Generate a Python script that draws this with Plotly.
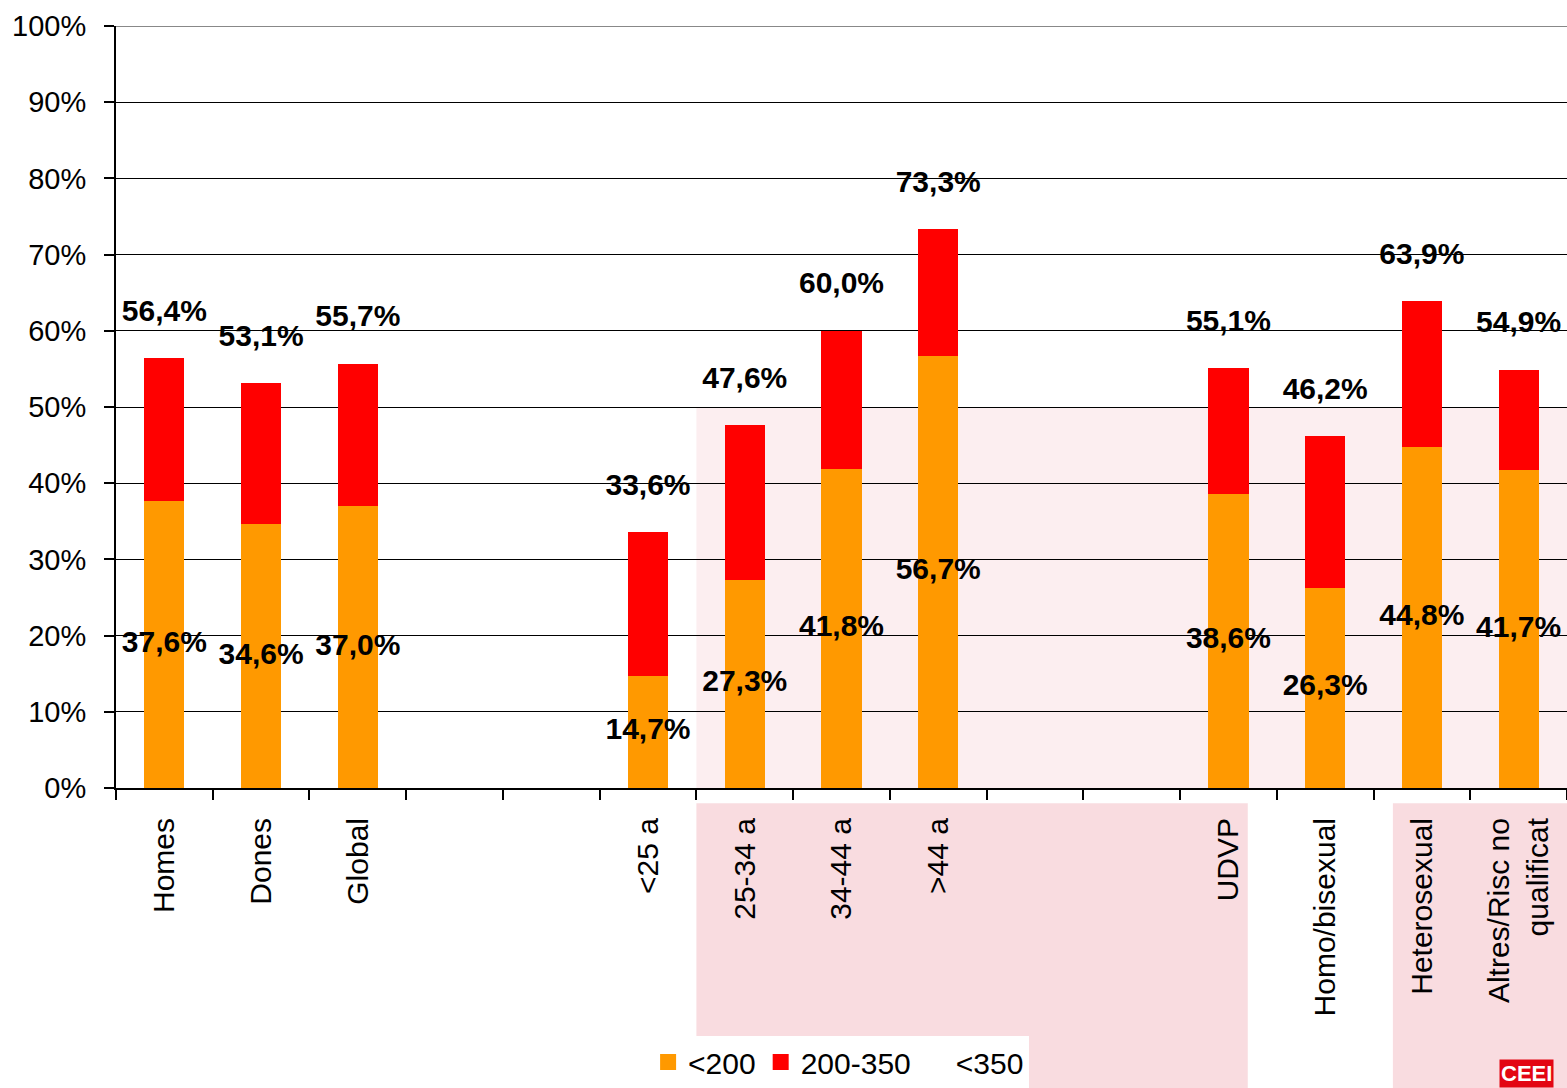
import plotly.graph_objects as go

categories = ["Homes", "Dones", "Global", " ", "  ", "<25 a", "25-34 a", "34-44 a", ">44 a",
              "   ", "    ", "UDVP", "Homo/bisexual", "Heterosexual", "Altres/Risc no<br>qualificat"]
under200 = [37.6, 34.6, 37.0, None, None, 14.7, 27.3, 41.8, 56.7, None, None, 38.6, 26.3, 44.8, 41.7]
under350 = [56.4, 53.1, 55.7, None, None, 33.6, 47.6, 60.0, 73.3, None, None, 55.1, 46.2, 63.9, 54.9]
range200_350 = [None if a is None else round(b - a, 1) for a, b in zip(under200, under350)]

FONT = "Liberation Sans, Arial, sans-serif"
ORANGE = "#FF9900"
RED = "#FF0000"
PINK = "#F9DCE0"
PINK_LIGHT = "#FCEEF0"


def fmt(v):
    return "" if v is None else f"{v:.1f}".replace(".", ",") + "%"


fig = go.Figure()
fig.add_trace(go.Bar(x=categories, y=under200, name="<200", showlegend=False,
                     marker=dict(color=ORANGE, line_width=0)))
fig.add_trace(go.Bar(x=categories, y=range200_350, name="200-350", showlegend=False,
                     marker=dict(color=RED, line_width=0)))
# legend entries
fig.add_trace(go.Scatter(x=[None], y=[None], name="<200", mode="markers",
                         marker=dict(symbol="square", size=20, color=ORANGE)))
fig.add_trace(go.Scatter(x=[None], y=[None], name="200-350", mode="markers",
                         marker=dict(symbol="square", size=20, color=RED)))
fig.add_trace(go.Scatter(x=categories, y=under350, name="<350", mode="lines",
                         line=dict(color="rgba(0,0,0,0)", width=0), hoverinfo="skip"))

# labels: <200 at middle of orange segment, <350 above bar
lab_x, lab_y, lab_t = [], [], []
for c, a, b in zip(categories, under200, under350):
    if a is None:
        continue
    lab_x.append(c); lab_y.append(a / 2); lab_t.append(fmt(a))
    lab_x.append(c); lab_y.append(b + 5.9); lab_t.append(fmt(b))
fig.add_trace(go.Scatter(x=lab_x, y=lab_y, text=lab_t, mode="text", showlegend=False,
                         textposition="middle center", cliponaxis=False,
                         textfont=dict(family=FONT, size=30, color="black", weight="bold"),
                         hoverinfo="skip"))

B = 300
PH = 762
fig.update_layout(
    barmode="stack",
    bargap=0.585,
    width=1567, height=1088,
    margin=dict(l=116, r=0, t=26, b=B),
    paper_bgcolor="white",
    plot_bgcolor="rgba(0,0,0,0)",
    font=dict(family=FONT, size=30, color="black"),
    showlegend=True,
    legend=dict(orientation="h", x=0.498, xanchor="center", y=-B / PH, yanchor="bottom",
                bgcolor="white", font=dict(size=30, family=FONT, color="black"),
                itemwidth=30, traceorder="normal", itemsizing="trace"),
)
fig.update_xaxes(
    type="category", categoryorder="array", categoryarray=categories,
    range=[-0.5, len(categories) - 0.5],
    showline=True, linecolor="black", linewidth=2,
    ticks="outside", tickson="boundaries", ticklen=10, tickcolor="black", tickwidth=1.5,
    tickangle=-90, showgrid=False, ticklabelstandoff=16,
    tickfont=dict(family=FONT, size=30, color="black"),
)
fig.update_yaxes(
    range=[0, 100], dtick=10, ticksuffix="%",
    showline=True, linecolor="black", linewidth=2,
    ticks="outside", ticklen=10, tickcolor="black", tickwidth=1.5,
    showgrid=True, gridcolor="black", gridwidth=1,
    zeroline=False, ticklabelstandoff=12,
    tickfont=dict(family=FONT, size=29, color="black"),
)
fig.add_shape(type="line", xref="paper", yref="y", x0=0, x1=1, y0=100, y1=100,
              line=dict(color="#888888", width=2))

# faint background watermark (pink tint at lower right)
for x0, x1, y0, y1, col in [
    (0.40, 0.78, -B / PH, -0.02, PINK),
    (0.88, 1.02, -B / PH, -0.02, PINK),
    (0.40, 1.02, 0.0, 0.5, PINK_LIGHT),
]:
    fig.add_shape(type="rect", xref="paper", yref="paper", x0=x0, x1=x1, y0=y0, y1=y1,
                  fillcolor=col, line_width=0, layer="below")

# partial logo at the bottom right corner
fig.add_annotation(xref="paper", yref="paper", x=0.953, y=-B / PH, xanchor="left", yanchor="bottom",
                   text="<b>CEEI</b>", showarrow=False, bgcolor="#E30613",
                   font=dict(family=FONT, size=22, color="white"))

fig.write_html("out.html", config={"displayModeBar": False},
               post_script="document.body.style.margin='0';document.body.style.overflow='hidden';")
